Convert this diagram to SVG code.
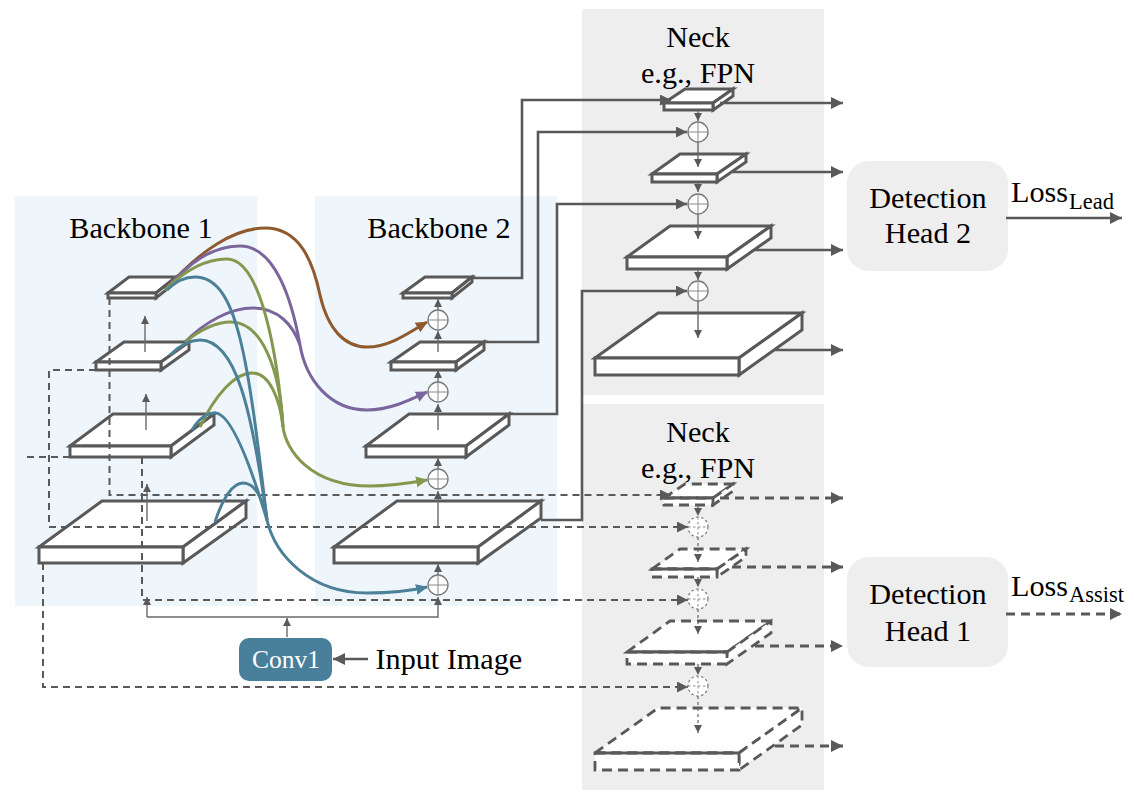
<svg xmlns="http://www.w3.org/2000/svg" width="1134" height="802" viewBox="0 0 1134 802">
<style>
.t{font-family:"Liberation Serif","Times New Roman",serif;fill:#000}
.l{font-size:30.2px}
.c{text-anchor:middle}
.s{font-size:22.5px}
.block polygon{fill:#fff;stroke:#595959;stroke-width:3;stroke-linejoin:miter}
.dblock polygon{fill:#fff;stroke:#595959;stroke-width:2.8;stroke-dasharray:10 6}
.dblock line{stroke:#595959;stroke-width:2.8}
.thin{fill:none;stroke:#6a6a6a;stroke-width:1.4;marker-end:url(#hs)}
.dthin{fill:none;stroke:#666;stroke-width:1.2;stroke-dasharray:3 3;marker-end:url(#hs)}
.link{fill:none;stroke:#595959;stroke-width:2.6;marker-end:url(#hm)}
.out{fill:none;stroke:#595959;stroke-width:2.6;marker-end:url(#hb)}
.dout{fill:none;stroke:#595959;stroke-width:2.8;stroke-dasharray:9 6;marker-end:url(#hb)}
.dl{fill:none;stroke:#595959;stroke-width:2;stroke-dasharray:7 5}
.dla{fill:none;stroke:#595959;stroke-width:2;stroke-dasharray:7 5;marker-end:url(#hm)}
.cv{fill:none;stroke-width:3}
.sum circle{fill:#fff;stroke:#777;stroke-width:1.3}
.sum path{fill:none;stroke:#888;stroke-width:1}
.dsum circle{fill:#fff;stroke:#777;stroke-width:1.2;stroke-dasharray:2.5 2.5}
.dsum path{fill:none;stroke:#888;stroke-width:1;stroke-dasharray:2.5 2.5}
</style>
<defs>
<marker id="hs" markerUnits="userSpaceOnUse" markerWidth="10" markerHeight="10" refX="8" refY="4" orient="auto"><path d="M0,0L8,4L0,8Z" fill="#595959"/></marker>
<marker id="hm" markerUnits="userSpaceOnUse" markerWidth="12" markerHeight="12" refX="11" refY="5.5" orient="auto"><path d="M0,0L11,5.5L0,11Z" fill="#595959"/></marker>
<marker id="hb" markerUnits="userSpaceOnUse" markerWidth="13" markerHeight="13" refX="12" refY="6" orient="auto"><path d="M0,0L12,6L0,12Z" fill="#595959"/></marker>
<marker id="hbr" markerUnits="userSpaceOnUse" markerWidth="13" markerHeight="13" refX="11" refY="5.5" orient="auto"><path d="M0,0L12,5.5L0,11Z" fill="#8f5a2e"/></marker>
<marker id="hpu" markerUnits="userSpaceOnUse" markerWidth="13" markerHeight="13" refX="11" refY="5.5" orient="auto"><path d="M0,0L12,5.5L0,11Z" fill="#7a659c"/></marker>
<marker id="hgr" markerUnits="userSpaceOnUse" markerWidth="13" markerHeight="13" refX="11" refY="5.5" orient="auto"><path d="M0,0L12,5.5L0,11Z" fill="#84984f"/></marker>
<marker id="hte" markerUnits="userSpaceOnUse" markerWidth="13" markerHeight="13" refX="11" refY="5.5" orient="auto"><path d="M0,0L12,5.5L0,11Z" fill="#4b8098"/></marker>
</defs>
<rect width="1134" height="802" fill="#fff"/>
<g id="panels">
<rect x="15" y="196" width="242" height="410" fill="#eef6fb"/>
<rect x="315" y="196" width="242" height="410" fill="#eef6fb"/>
<rect x="582" y="9" width="242" height="386" fill="#eeeeee"/>
<rect x="582" y="404" width="242" height="386" fill="#eeeeee"/>
</g>
<g id="labels">
<text class="t l c" x="141" y="238">Backbone 1</text>
<text class="t l c" x="439" y="238">Backbone 2</text>
<text class="t l c" x="698" y="47">Neck</text>
<text class="t l c" x="698" y="83">e.g., FPN</text>
<text class="t l c" x="698" y="442">Neck</text>
<text class="t l c" x="698" y="478">e.g., FPN</text>
<text class="t l" x="375.500" y="669">Input Image</text>
<text class="t l" x="1011" y="202">Loss</text>
<text class="t s" x="1069" y="209">Lead</text>
<text class="t l" x="1011" y="596">Loss</text>
<text class="t s" x="1069" y="602">Assist</text>
</g>
<g id="b1-1" class="block"><polygon points="108,293 129,277 176,277 156,293"/><polygon points="156,293 176,277 176,282 156,298"/><polygon points="108,293 156,293 156,298 108,298"/></g>
<g id="b1-2" class="block"><polygon points="96,362 124,342 189,342 161,362"/><polygon points="161,362 189,342 189,350 161,370"/><polygon points="96,362 161,362 161,370 96,370"/></g>
<g id="b1-3" class="block"><polygon points="70,446 113,414 214,414 171,446"/><polygon points="171,446 214,414 214,425 171,457"/><polygon points="70,446 171,446 171,457 70,457"/></g>
<g id="b1-4" class="block"><polygon points="39,547 102,501 246,501 183,547"/><polygon points="183,547 246,501 246,518 183,563"/><polygon points="39,547 183,547 183,563 39,563"/></g>
<g id="b2-1" class="block"><polygon points="403,293 425,277 472,277 452,293"/><polygon points="452,293 472,277 472,282 452,298"/><polygon points="403,293 452,293 452,298 403,298"/></g>
<g id="b2-2" class="block"><polygon points="391,362 420,342 484,342 456,362"/><polygon points="456,362 484,342 484,350 456,370"/><polygon points="391,362 456,362 456,370 391,370"/></g>
<g id="b2-3" class="block"><polygon points="366,446 409,414 509,414 466,446"/><polygon points="466,446 509,414 509,425 466,457"/><polygon points="366,446 466,446 466,457 366,457"/></g>
<g id="b2-4" class="block"><polygon points="334,547 397,501 541,501 478,547"/><polygon points="478,547 541,501 541,518 478,563"/><polygon points="334,547 478,547 478,563 334,563"/></g>
<g id="n1-1" class="block"><polygon points="664,103 685,89 733,89 713,103"/><polygon points="713,103 733,89 733,96 713,110"/><polygon points="664,103 713,103 713,110 664,110"/></g>
<g id="n1-2" class="block"><polygon points="652,174 680,154 746,154 717,174"/><polygon points="717,174 746,154 746,162 717,182"/><polygon points="652,174 717,174 717,182 652,182"/></g>
<g id="n1-3" class="block"><polygon points="627,257 670,226 771,226 727,257"/><polygon points="727,257 771,226 771,238 727,269"/><polygon points="627,257 727,257 727,269 627,269"/></g>
<g id="n1-4" class="block"><polygon points="595,358 658,313 802,313 739,358"/><polygon points="739,358 802,313 802,330 739,375"/><polygon points="595,358 739,358 739,375 595,375"/></g>
<g id="n2-1" class="dblock"><polygon points="664,498 685,484 733,484 713,498"/><polygon points="713,498 733,484 733,491 713,505"/><polygon points="664,498 713,498 713,505 664,505"/><line x1="664" y1="498" x2="713" y2="498"/></g>
<g id="n2-2" class="dblock"><polygon points="652,569 680,549 746,549 717,569"/><polygon points="717,569 746,549 746,557 717,577"/><polygon points="652,569 717,569 717,577 652,577"/><line x1="652" y1="569" x2="717" y2="569"/></g>
<g id="n2-3" class="dblock"><polygon points="627,652 670,621 771,621 727,652"/><polygon points="727,652 771,621 771,633 727,664"/><polygon points="627,652 727,652 727,664 627,664"/><line x1="627" y1="652" x2="727" y2="652"/></g>
<g id="n2-4" class="dblock"><polygon points="595,753 658,708 802,708 739,753"/><polygon points="739,753 802,708 802,725 739,770"/><polygon points="595,753 739,753 739,770 595,770"/><line x1="595" y1="753" x2="739" y2="753"/></g>
<g id="head2"><rect x="847" y="161" width="161" height="110" rx="22" fill="#eeeeee"/><text class="t l c" x="928" y="208">Detection</text><text class="t l c" x="928" y="243">Head 2</text></g>
<g id="head1"><rect x="847" y="557" width="161" height="110" rx="22" fill="#eeeeee"/><text class="t l c" x="928" y="604">Detection</text><text class="t l c" x="928" y="641">Head 1</text></g>
<g id="conv1"><rect x="239" y="638" width="93" height="43" rx="10" fill="#4a7f9b"/><text x="286" y="668" text-anchor="middle" font-family="Liberation Serif, serif" font-size="25.5" fill="#fff">Conv1</text></g>
<g id="connectors">
<path class="thin" d="M145,352V316"/>
<path class="thin" d="M146,430V394"/>
<path class="thin" d="M147,521V484"/>
<path class="thin" d="M287,637V618"/>
<path class="thin" d="M147,617H438V597"/>
<path class="thin" d="M147,617V597"/>
<path class="thin" d="M438,575V564"/>
<path class="thin" d="M438,527V491"/>
<path class="thin" d="M438,469V458"/>
<path class="thin" d="M438,430V404"/>
<path class="thin" d="M438,382V370"/>
<path class="thin" d="M438,352V331"/>
<path class="thin" d="M438,310V299"/>
<path class="thin" d="M698,110V121"/>
<path class="thin" d="M698,142V167"/>
<path class="thin" d="M698,182V192"/>
<path class="thin" d="M698,214V239"/>
<path class="thin" d="M698,269V280"/>
<path class="thin" d="M698,301V338"/>
<path class="dthin" d="M698,505V516"/>
<path class="dthin" d="M698,537V562"/>
<path class="dthin" d="M698,577V587"/>
<path class="dthin" d="M698,609V634"/>
<path class="dthin" d="M698,664V675"/>
<path class="dthin" d="M698,696V733"/>
<path class="dla" d="M109.500,298V495H671"/>
<path class="dla" d="M96,370H49V527H688"/>
<path class="dl" d="M70,457H25"/>
<path class="dla" d="M142,457V600H688"/>
<path class="dla" d="M43,563V687H688"/>
<path class="link" d="M472,278H522V100H671"/>
<path class="link" d="M484,342H538V132H687"/>
<path class="link" d="M509,414H557V204H687"/>
<path class="link" d="M541,520H582V291H687"/>
<path class="out" d="M720,103H843"/>
<path class="out" d="M732,172H843"/>
<path class="out" d="M755,250H843"/>
<path class="out" d="M775,350H843"/>
<path class="dout" d="M720,498H843"/>
<path class="dout" d="M732,567H843"/>
<path class="dout" d="M755,646H843"/>
<path class="dout" d="M775,746H843"/>
<path class="out" d="M1006,218H1122"/>
<path class="dout" d="M1006,614H1122"/>
<path class="out" d="M368,659H333"/>
<path class="cv" stroke="#8f5a2e" marker-end="url(#hbr)" d="M165,290C200,250 235,228 265,228C300,228 313,262 320,295C328,330 345,347 367,347C390,347 410,332 427,322"/>
<path class="cv" stroke="#7a659c" d="M185,342C205,322 230,308 253,308C278,308 293,325 300,345"/>
<path class="cv" stroke="#7a659c" marker-end="url(#hpu)" d="M165,290C190,262 212,246 240,246C275,246 292,300 300,345C306,380 330,410 367,410C390,410 410,400 427,392"/>
<path class="cv" stroke="#84984f" d="M165,290C185,270 205,259 227,259C262,259 278,360 283,427"/>
<path class="cv" stroke="#84984f" d="M185,342C200,330 215,322 231,322C262,322 280,370 283,427"/>
<path class="cv" stroke="#84984f" d="M200,427C215,395 235,373 252,373C270,373 280,400 283,427"/>
<path class="cv" stroke="#84984f" marker-end="url(#hgr)" d="M283,427C286,450 310,486 370,486C390,486 410,483 427,480"/>
<path class="cv" stroke="#4b8098" d="M167,290C175,282 185,277 195,277C238,277 248,360 267,520"/>
<path class="cv" stroke="#4b8098" d="M170,355C180,345 190,340 200,340C236,340 252,410 267,520"/>
<path class="cv" stroke="#4b8098" d="M192,430C198,420 206,413 215,413C232,413 252,470 267,520"/>
<path class="cv" stroke="#4b8098" d="M215,522C222,500 232,483 243,483C256,483 263,500 267,520"/>
<path class="cv" stroke="#4b8098" marker-end="url(#hte)" d="M267,520C275,555 310,593 367,593C390,593 410,591 427,587"/>
</g>
<g id="sum-b2-1" class="sum"><circle cx="438" cy="320" r="10"/><path d="M428,320H448M438,310V330"/></g>
<g id="sum-b2-2" class="sum"><circle cx="438" cy="392" r="10"/><path d="M428,392H448M438,382V402"/></g>
<g id="sum-b2-3" class="sum"><circle cx="438" cy="479" r="10"/><path d="M428,479H448M438,469V489"/></g>
<g id="sum-b2-4" class="sum"><circle cx="438" cy="585" r="10"/><path d="M428,585H448M438,575V595"/></g>
<g id="sum-n1-1" class="sum"><circle cx="698" cy="132" r="10"/><path d="M688,132H708M698,122V142"/></g>
<g id="sum-n1-2" class="sum"><circle cx="698" cy="204" r="10"/><path d="M688,204H708M698,194V214"/></g>
<g id="sum-n1-3" class="sum"><circle cx="698" cy="291" r="10"/><path d="M688,291H708M698,281V301"/></g>
<g id="sum-n2-1" class="dsum"><circle cx="698" cy="527" r="10"/><path d="M688,527H708M698,517V537"/></g>
<g id="sum-n2-2" class="dsum"><circle cx="698" cy="599" r="10"/><path d="M688,599H708M698,589V609"/></g>
<g id="sum-n2-3" class="dsum"><circle cx="698" cy="686" r="10"/><path d="M688,686H708M698,676V696"/></g>
</svg>
